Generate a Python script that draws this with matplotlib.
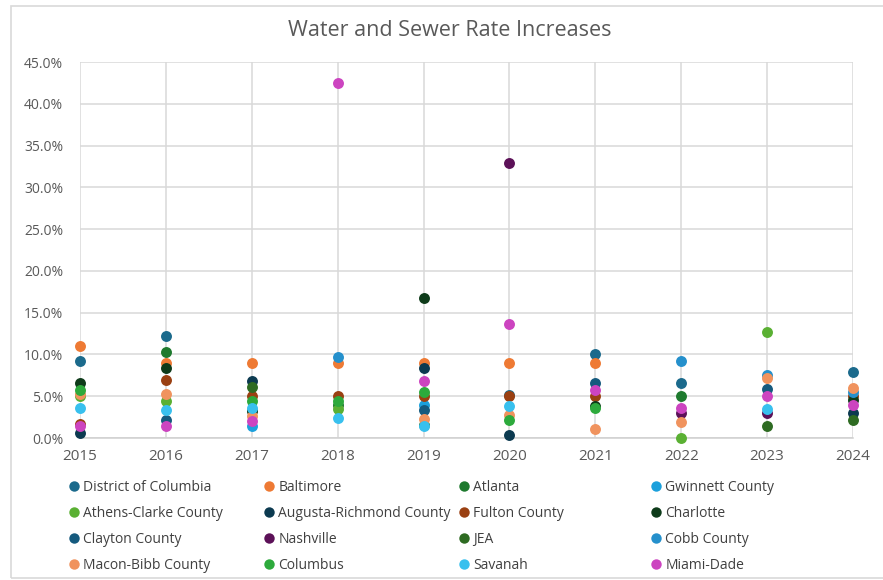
import numpy as np
import matplotlib
matplotlib.use("Agg")
import matplotlib.pyplot as plt
from matplotlib.ticker import PercentFormatter, MultipleLocator
from matplotlib.patches import Rectangle
from matplotlib.lines import Line2D

plt.rcParams['font.family'] = ['Open Sans', 'DejaVu Sans']

nan = np.nan
years = [2015, 2016, 2017, 2018, 2019, 2020, 2021, 2022, 2023, 2024]

# rate increase in percent, nan = no value that year
district_of_columbia = [9.2, 12.2, nan, nan, nan, 5.2, 10.0, 6.6, nan, 7.9]
baltimore = [11.0, 9.0, 9.0, 9.0, 9.0, 9.0, 9.0, nan, nan, nan]
atlanta = [nan, 10.3, nan, 4.0, nan, nan, nan, 5.0, nan, nan]
gwinnett = [nan, nan, 1.4, nan, 3.9, nan, nan, nan, nan, nan]
athens_clarke = [5.0, 4.4, nan, 3.5, nan, nan, nan, 0.0, 12.7, nan]
augusta_richmond = [0.6, nan, 6.8, nan, 8.4, 0.3, nan, nan, nan, 3.0]
fulton = [1.7, 6.9, 5.0, 5.0, 5.0, 5.0, 5.0, nan, nan, 5.0]
charlotte = [6.6, 8.4, 3.2, nan, 16.7, nan, 3.8, nan, nan, 4.5]
clayton = [nan, 2.1, nan, nan, 3.4, nan, 6.6, nan, 5.9, nan]
nashville = [nan, nan, nan, nan, nan, 32.9, nan, 3.0, 3.0, nan]
jea = [nan, nan, 6.1, nan, 1.6, nan, nan, nan, 1.4, 2.2]
cobb = [nan, nan, nan, 9.7, nan, nan, nan, 9.2, 7.5, 5.5]
macon_bibb = [5.3, 5.3, 2.6, nan, 2.3, 2.8, 1.1, 1.9, 7.2, 6.0]
columbus = [5.8, nan, 4.4, 4.4, 5.5, 2.2, 3.6, nan, nan, nan]
savanah = [3.6, 3.4, 3.6, 2.4, 1.4, 3.8, nan, nan, 3.5, nan]
miami_dade = [1.4, 1.4, 2.0, 42.5, 6.8, 13.6, 5.8, 3.6, 5.0, 4.0]

names = ["District of Columbia", "Baltimore", "Atlanta", "Gwinnett County",
         "Athens-Clarke County", "Augusta-Richmond County", "Fulton County", "Charlotte",
         "Clayton County", "Nashville", "JEA", "Cobb County",
         "Macon-Bibb County", "Columbus", "Savanah", "Miami-Dade"]
series = [district_of_columbia, baltimore, atlanta, gwinnett,
          athens_clarke, augusta_richmond, fulton, charlotte,
          clayton, nashville, jea, cobb,
          macon_bibb, columbus, savanah, miami_dade]
colors = ["#1B6A8C", "#EE7A34", "#1E7A2E", "#1BA0DC",
          "#5AB033", "#0C3A50", "#9A4012", "#0E3B1A",
          "#155A7E", "#5C1158", "#2E6B22", "#2590CC",
          "#F0935E", "#2DAA3C", "#38C0EE", "#CC44C0"]

fig = plt.figure(figsize=(8.83, 5.8), dpi=100)
ax = fig.add_axes([80/883, 1 - 438/580, (853 - 80)/883, (438 - 62)/580])

for name, vals, c in zip(names, series, colors):
    ax.scatter(years, vals, s=62, color=c, label=name, zorder=3, clip_on=False, linewidths=0)

ax.set_xlim(2015, 2024)
ax.set_ylim(0, 45)
ax.xaxis.set_major_locator(MultipleLocator(1))
ax.yaxis.set_major_locator(MultipleLocator(5))
ax.yaxis.set_major_formatter(PercentFormatter(100, decimals=1))
ax.grid(True, color="#D9D9D9", lw=1.1)
ax.set_axisbelow(True)
for s in ["top", "right", "left"]:
    ax.spines[s].set_visible(False)
ax.spines["bottom"].set_color("#D0D0D0")
ax.spines["bottom"].set_linewidth(1.1)
ax.tick_params(axis="both", length=0, colors="#595959")
ax.tick_params(axis="y", pad=12, labelsize=10)
ax.tick_params(axis="x", pad=8, labelsize=11)

fig.text(450/883, 1 - 30/580, "Water and Sewer Rate Increases", ha="center", va="center",
         fontsize=15.5, color="#595959")

# chart border
fig.patches.append(Rectangle((11/883, 2/580), 1.0, 572/580, transform=fig.transFigure,
                             fill=False, ec="#D9D9D9", lw=1.2))

# legend laid out in 4 columns, row-major like the original
col_x = [70, 265, 460, 652]
for j, x in enumerate(col_x):
    idx = list(range(j, 16, 4))
    handles = [Line2D([], [], ls="", marker="o", ms=7.5, mec="none", color=colors[i]) for i in idx]
    leg = fig.legend(handles, [names[i] for i in idx], loc="upper left",
                     bbox_to_anchor=(x/883, 1 - 480/580), frameon=False, fontsize=10,
                     handlelength=0.6, handletextpad=0.35, labelspacing=0.8,
                     borderaxespad=0, borderpad=0, labelcolor="#404040")

fig.savefig("out.png", dpi=100)
